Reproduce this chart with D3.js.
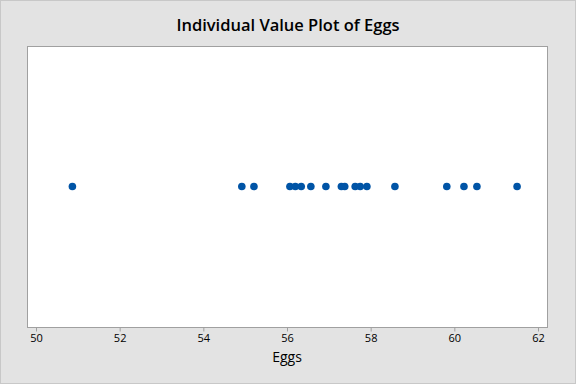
<!DOCTYPE html>
<html>
<head>
<meta charset="utf-8">
<script src="https://cdn.jsdelivr.net/npm/d3@7"></script>
<style>
  body { margin: 0; background: #e3e3e3; }
  svg { display: block; }
</style>
</head>
<body>
<div id="chart"></div>
<script>
// egg values
var eggs = [50.87, 54.92, 55.21, 56.07, 56.2, 56.34, 56.57, 56.93, 57.3, 57.38,
            57.63, 57.75, 57.91, 58.58, 59.82, 60.23, 60.54, 61.5];
var xTicks = [50, 52, 54, 56, 58, 60, 62];

var width = 576, height = 384;
var plot = { left: 27, right: 547, top: 46, bottom: 327 };

var svg = d3.select("#chart").append("svg")
  .attr("width", width)
  .attr("height", height);

// outer border
svg.append("rect")
  .attr("x", 0.5).attr("y", 0.5)
  .attr("width", width - 1).attr("height", height - 1)
  .attr("fill", "#e3e3e3")
  .attr("stroke", "#c8c8c8");

svg.append("rect")
  .attr("x", plot.left + 0.5).attr("y", plot.top + 0.5)
  .attr("width", plot.right - plot.left).attr("height", plot.bottom - plot.top)
  .attr("fill", "#fff")
  .attr("stroke", "#a0a0a0");

var x = d3.scaleLinear().domain([50, 62]).range([36, 538]);

var xAxis = d3.axisBottom(x).tickValues(xTicks).tickSize(4).tickPadding(3);
var gx = svg.append("g")
  .attr("transform", "translate(0," + (plot.bottom + 0.5) + ")")
  .call(xAxis);
gx.select(".domain").remove();
gx.selectAll(".tick line").attr("stroke", "#a0a0a0");
gx.selectAll(".tick text")
  .attr("fill", "#000")
  .style("font-family", "'Open Sans', sans-serif")
  .style("font-size", "11px");

svg.selectAll("circle.dot")
  .data(eggs)
  .enter()
  .append("circle")
  .attr("class", "dot")
  .attr("cx", function (d) { return x(d); })
  .attr("cy", 186.5)
  .attr("r", 3.8)
  .attr("fill", "#0054a6");

svg.append("text")
  .attr("x", 288).attr("y", 31)
  .attr("text-anchor", "middle")
  .style("font-family", "'Open Sans', sans-serif")
  .style("font-size", "16.5px")
  .style("font-weight", "600")
  .text("Individual Value Plot of Eggs");

svg.append("text")
  .attr("x", 287).attr("y", 362)
  .attr("text-anchor", "middle")
  .style("font-family", "'Open Sans', sans-serif")
  .style("font-size", "14px")
  .text("Eggs");
</script>
</body>
</html>
